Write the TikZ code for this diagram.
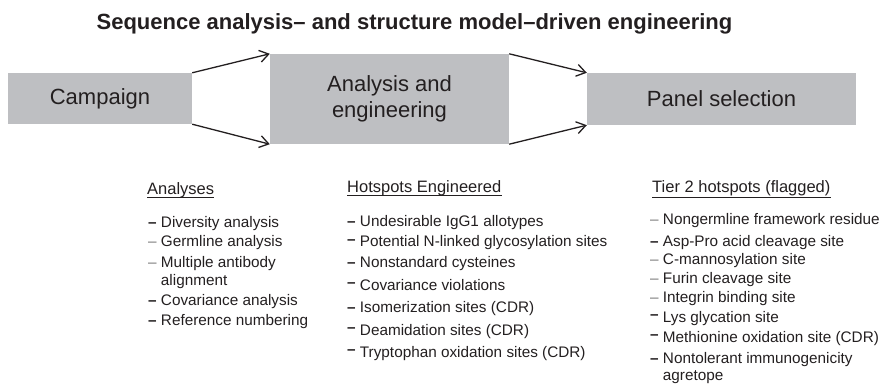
\documentclass[tikz,border=0pt]{standalone}
\usepackage{fontspec}
\setmainfont{Liberation Sans}
\usetikzlibrary{arrows.meta}

\definecolor{boxgray}{RGB}{190,191,194}
\definecolor{inkgray}{RGB}{35,31,32}
\definecolor{dashgray}{RGB}{125,125,125}

\newcommand{\bdash}{{\bfseries –}}
\newcommand{\ldash}{{\color{dashgray}–}}
\newcommand{\rdash}{\raisebox{2.5pt}{\bfseries –}}
\newcommand{\twolines}[2]{\vtop{\hbox{#1}\hbox{#2}}}

\begin{document}
\begin{tikzpicture}[x=1pt, y=-1pt,
  stage/.style={fill=boxgray, text=inkgray, inner sep=0pt, align=center,
                font=\fontsize{22}{26}\selectfont},
  link/.style={-{Straight Barb[length=9pt,width=12pt]}, line width=1.3pt, inkgray},
  head/.style={anchor=base west, inner sep=0pt, text=inkgray,
               font=\fontsize{16.5}{19}\selectfont},
  item/.style={anchor=base west, inner sep=0pt, text=inkgray,
               font=\fontsize{15.3}{17.5}\selectfont},
  uline/.style={line width=.9pt, inkgray}
]
\useasboundingbox (0,0) rectangle (880,387);

\node[font=\bfseries\fontsize{22}{26}\selectfont, anchor=base, text=inkgray,
      inner sep=0pt] (title) at (414.5,30)
  {Sequence analysis– and structure model–driven engineering};

\node[stage, minimum width=184pt, minimum height=51pt] (camp) at (100,98.5) {Campaign};
\node[stage, minimum width=239pt, minimum height=90pt] (anal) at (389.5,99)
  {Analysis and\\engineering};
\node[stage, minimum width=269pt, minimum height=52pt] (panel) at (721.5,99) {Panel selection};
\draw[link] (camp.north east) -- (anal.north west);
\draw[link] (camp.south east) -- (anal.south west);
\draw[link] (anal.north east) -- (panel.north west);
\draw[link] (anal.south east) -- (panel.south west);

% analyses
\node[head] (hdA) at (147,195) {Analyses};
\draw[uline] ([yshift=-2.5pt]hdA.base west) -- ([yshift=-2.5pt]hdA.base east);
\foreach \y/\mk/\txt [count=\i] in {228/\bdash/Diversity analysis,
    247/\ldash/Germline analysis,
    268/\ldash/{\twolines{Multiple antibody}{alignment}},
    305/\bdash/Covariance analysis,
    325/\bdash/Reference numbering}
  \node[item] (an\i) at (148,\y) {\mk\ \txt};

% hotspots engineered
\node[head] (hdB) at (347,193) {Hotspots Engineered};
\draw[uline] ([yshift=-2.5pt]hdB.base west) -- ([yshift=-2.5pt]hdB.base east);
\foreach \y/\mk/\txt [count=\i] in {227/\bdash/Undesirable IgG1 allotypes,
    247/\rdash/Potential N-linked glycosylation sites,
    268/\bdash/Nonstandard cysteines,
    290/\rdash/Covariance violations,
    312/\bdash/Isomerization sites (CDR),
    335/\rdash/Deamidation sites (CDR),
    357/\rdash/Tryptophan oxidation sites (CDR)}
  \node[item] (hs\i) at (347,\y) {\mk\ \txt};

% tier 2 hotspots
\node[head] (hdC) at (652,193) {Tier 2 hotspots (flagged)\hspace{3pt}};
\draw[uline] ([yshift=-4pt]hdC.base west) -- ([yshift=-4pt]hdC.base east);
\foreach \y/\mk/\txt [count=\i] in {225/\ldash/Nongermline framework residue,
    247/\bdash/Asp-Pro acid cleavage site,
    265/\ldash/C-mannosylation site,
    283/\ldash/Furin cleavage site,
    302/\ldash/Integrin binding site,
    322/\rdash/Lys glycation site,
    342/\rdash/Methionine oxidation site (CDR),
    363/\bdash/{\twolines{Nontolerant immunogenicity}{agretope}}}
  \node[item] (tt\i) at (650,\y) {\mk\ \txt};
\end{tikzpicture}
\end{document}
